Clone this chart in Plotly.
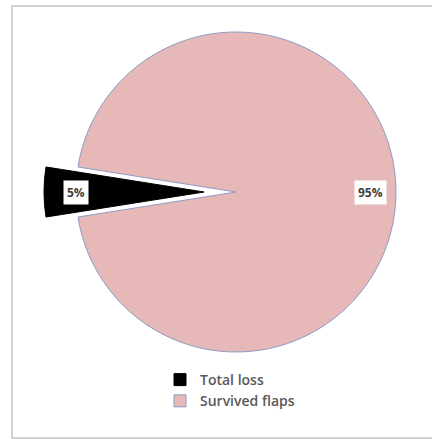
import math
import plotly.graph_objects as go

labels = ["Total loss", "Survived flaps"]
values = [5, 95]
colors = ["#000000", "#E6B9B8"]
line_colors = ["#000000", "#8E9BC6"]
pulls = [0.2, 0.0]

W, H = 432, 439
# pie domain in pixels
dom_l, dom_r = 40, 432
dom_t, dom_b = 0, 384
cx = (dom_l + dom_r) / 2
cy = (dom_t + dom_b) / 2
maxpull = max(pulls)
r = min((dom_r - dom_l) / 2, (dom_b - dom_t) / 2) / (1 + maxpull)

total = sum(values)
# clockwise from 12 o'clock; first slice centred on 9 o'clock
rotation = 270 - 0.5 * values[0] / total * 360 - 360

fig = go.Figure(go.Pie(
    labels=labels,
    values=values,
    sort=False,
    direction="clockwise",
    rotation=rotation,
    pull=pulls,
    marker=dict(colors=colors, line=dict(color=line_colors, width=1)),
    textinfo="none",
    hoverinfo="label+percent",
    domain=dict(x=[dom_l / W, dom_r / W], y=[1 - dom_b / H, 1 - dom_t / H]),
    showlegend=True,
))

# percentage labels in white boxes, positioned from the slice mid-angles
start = 90 - rotation  # angle (deg, ccw from 3 o'clock) where first slice starts
cum = 0
label_frac = [0.8, 0.84]
annotations = []
for v, p, f in zip(values, pulls, label_frac):
    mid = math.radians(start - (cum + v / 2) / total * 360)
    cum += v
    dist = r * (f + p)
    px = cx + dist * math.cos(mid)
    py = cy - dist * math.sin(mid)
    annotations.append(dict(
        x=px / W, y=1 - py / H, xref="paper", yref="paper",
        xanchor="center", yanchor="middle",
        text="<b>%d%%</b>" % round(100 * v / total),
        showarrow=False, bgcolor="white", borderpad=3,
        font=dict(family="Open Sans, Liberation Sans, sans-serif", size=12, color="#404040"),
    ))

fig.update_layout(
    width=W, height=H,
    margin=dict(l=0, r=0, t=0, b=0),
    paper_bgcolor="white",
    plot_bgcolor="white",
    annotations=annotations,
    legend=dict(
        orientation="v",
        x=160 / W, xanchor="left",
        y=1 - 364 / H, yanchor="top",
        font=dict(family="Open Sans, Liberation Sans, sans-serif", size=14, color="#595959", weight=600),
        bgcolor="rgba(0,0,0,0)",
    ),
    shapes=[dict(
        type="rect", xref="paper", yref="paper",
        x0=12 / W, x1=1.01, y0=1 - 438 / H, y1=1 - 6 / H,
        line=dict(color="#c4c4c4", width=1.5),
        layer="below",
    )],
)

fig.write_html("out.html")
